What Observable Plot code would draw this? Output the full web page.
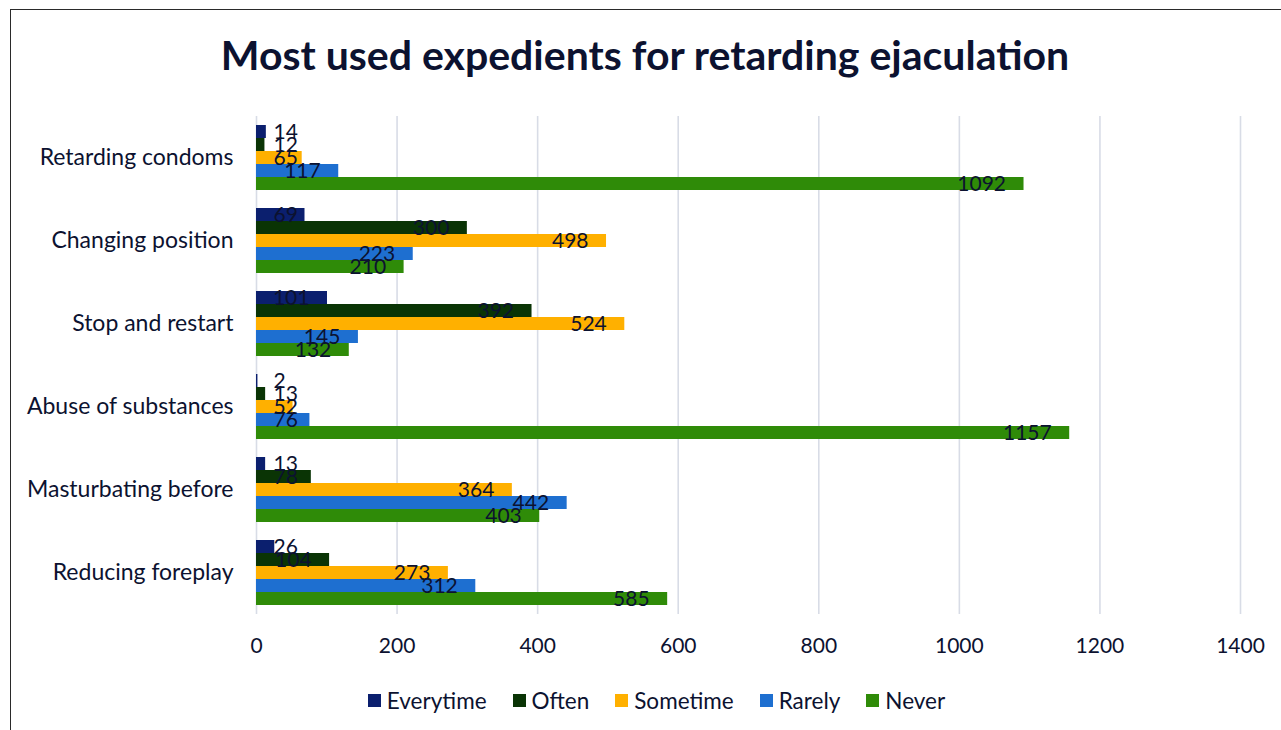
<!DOCTYPE html>
<html>
<head>
<meta charset="utf-8">
<script src="https://cdn.jsdelivr.net/npm/d3@7"></script>
<script src="https://cdn.jsdelivr.net/npm/@observablehq/plot@0.6"></script>
<style>
  html, body { margin: 0; padding: 0; background: #fff; }
  body { width: 1281px; height: 730px; position: relative; overflow: hidden; font-family: Lato, "Open Sans", sans-serif; color: #0c1230; }
  #frame { position: absolute; left: 10px; top: 9px; width: 1400px; height: 900px; border-left: 1.5px solid #2a2a2a; border-top: 1.5px solid #2a2a2a; }
  #title { position: relative; height: 100px; box-sizing: border-box; padding-top: 34px; text-align: center; font-weight: 700; font-size: 41px; line-height: 1; padding-left: 9px; }
  #chart { position: relative; height: 570px; }
  #legend { position: relative; height: 60px; display: flex; justify-content: center; align-items: center; font-size: 22.5px; padding-left: 32px; box-sizing: border-box; }
  .item { display: flex; align-items: center; margin: 0 13px; }
  .sw { width: 13px; height: 13px; margin-right: 6px; }
  g[aria-label^="fy-axis"] { font-size: 23px; }
</style>
</head>
<body>
<div id="frame"></div>
<div id="title">Most used expedients for retarding ejaculation</div>
<div id="chart"></div>
<div id="legend"></div>
<script>
const categories = ["Retarding condoms", "Changing position", "Stop and restart", "Abuse of substances", "Masturbating before", "Reducing foreplay"];
const series = ["Everytime", "Often", "Sometime", "Rarely", "Never"];
const everytime = [14, 69, 101, 2, 13, 26];
const often = [12, 300, 392, 13, 78, 104];
const sometime = [65, 498, 524, 52, 364, 273];
const rarely = [117, 223, 145, 76, 442, 312];
const never = [1092, 210, 132, 1157, 403, 585];
const colors = ["#0b1f6e", "#0a3405", "#ffb000", "#1e6fd0", "#2f8b08"];
const xTicks = [0, 200, 400, 600, 800, 1000, 1200, 1400];

const seriesValues = [everytime, often, sometime, rarely, never];
const rows = [];
categories.forEach((c, i) => {
  series.forEach((s, j) => rows.push({category: c, series: s, value: seriesValues[j][i]}));
});

const width = 1281, marginLeft = 256, marginRight = 41;
const pxPerUnit = (width - marginLeft - marginRight) / 1400;
const fits = d => d.value * pxPerUnit - 18 - String(d.value).length * 11.6 >= 17;
const ink = "#0c1230";

const chart = Plot.plot({
  width,
  height: 570,
  marginLeft,
  marginRight,
  marginTop: 14,
  marginBottom: 55,
  style: {fontFamily: "Lato, 'Open Sans', sans-serif", fontSize: "21px", color: ink, background: "transparent", overflow: "visible"},
  facet: {data: rows, y: "category"},
  fy: {domain: categories, padding: 0, axis: "left", label: null, tickSize: 0, tickPadding: 23},
  y: {domain: series, paddingInner: 0, paddingOuter: 0.5, axis: null},
  x: {domain: [0, 1400], ticks: xTicks, tickSize: 0, tickPadding: 24, tickFormat: d => String(d), label: null},
  color: {domain: series, range: colors},
  marks: [
    Plot.ruleX(xTicks, {stroke: "#d8dce6", strokeWidth: 1.6}),
    Plot.barX(rows, {x: "value", y: "series", fill: "series"}),
    Plot.text(rows, {filter: fits, x: "value", y: "series", text: d => String(d.value), textAnchor: "end", dx: -18, fill: ink, fontSize: 21}),
    Plot.text(rows, {filter: d => !fits(d), frameAnchor: "left", y: "series", text: d => String(d.value), textAnchor: "start", dx: 17, fill: ink, fontSize: 21})
  ]
});
document.getElementById("chart").appendChild(chart);

const legend = document.getElementById("legend");
series.forEach((s, i) => {
  const item = document.createElement("div");
  item.className = "item";
  const sw = document.createElement("div");
  sw.className = "sw";
  sw.style.background = colors[i];
  const label = document.createElement("span");
  label.textContent = s;
  item.appendChild(sw);
  item.appendChild(label);
  legend.appendChild(item);
});
</script>
</body>
</html>
